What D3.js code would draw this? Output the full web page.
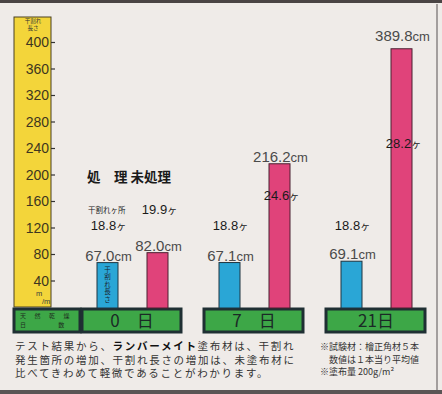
<!DOCTYPE html>
<html>
<head>
<meta charset="utf-8">
<script src="https://cdn.jsdelivr.net/npm/d3@7"></script>
<style>
  body { margin: 0; background: #efebe8; }
  svg { display: block; }
  .num { font-family: "Liberation Sans", "DejaVu Sans", sans-serif; fill: #3a3a3a; }
  .jp { font-family: "Noto Sans CJK JP", sans-serif; }
</style>
</head>
<body>
<div id="chart"></div>
<script>
// data
var days = ["0　日", "7　日", "21日"];
var series = ["処　理", "未処理"];
var treated = [67.0, 67.1, 69.1];
var untreated = [82.0, 216.2, 389.8];
var treatedCracks = [18.8, 18.8, 18.8];
var untreatedCracks = [19.9, 24.6, 28.2];
var yTicks = [40, 80, 120, 160, 200, 240, 280, 320, 360, 400];
var noteLines = [
  ["テスト結果から、", "ランバーメイト", "塗布材は、干割れ"],
  ["発生箇所の増加、干割れ長さの増加は、未塗布材に"],
  ["比べてきわめて軽微であることがわかります。"]
];
var sideNotes = ["※試験材：檜正角材５本", "　数値は１本当り平均値", "※塗布量 200g/m²"];

var W = 442, H = 394;
var colors = { yellow: "#f3d53a", blue: "#2aa6d6", pink: "#e0437a", green: "#3da747", dark: "#1f2f33" };

var svg = d3.select('#chart').append('svg')
  .attr('width', W).attr('height', H);

// paper frame
svg.append('rect').attr('x', 0).attr('y', 0).attr('width', W).attr('height', H).attr('fill', '#efebe8');
svg.append('rect').attr('x', 0).attr('y', 0).attr('width', W).attr('height', 3).attr('fill', '#4a4444');
svg.append('rect').attr('x', 0).attr('y', 390).attr('width', W).attr('height', 4).attr('fill', '#5a5555');
svg.append('line').attr('x1', 437).attr('x2', 437).attr('y1', 4).attr('y2', 390)
  .attr('stroke', '#8a8585').attr('stroke-width', 1.5);

var y = d3.scaleLinear().domain([0, 400]).range([307, 42]);
var x = d3.scaleBand().domain(days).range([71, 437]);
var inner = d3.scaleBand().domain(series).range([26, 97]).paddingInner(0.58);

// yellow axis strip
svg.append('rect').attr('x', 14).attr('y', 17).attr('width', 37).attr('height', 290)
  .attr('fill', colors.yellow).attr('stroke', '#4a4020').attr('stroke-width', 1);

var yAxis = d3.axisRight(y).tickValues(yTicks).tickSize(4).tickFormat('');
var axisG = svg.append('g').attr('transform', 'translate(51,0)').call(yAxis);
axisG.select('.domain').remove();
axisG.selectAll('.tick line').attr('stroke', '#333').attr('stroke-width', 1.2);

svg.selectAll('.ylab').data(yTicks).enter().append('text')
  .attr('class', 'num')
  .attr('x', 49).attr('y', function(d) { return y(d); })
  .attr('dy', '0.36em')
  .attr('text-anchor', 'end')
  .attr('font-size', 14)
  .style('fill', '#3d3520')
  .text(function(d) { return d; });

svg.append('text').attr('class', 'jp').attr('x', 33).attr('y', 23).attr('text-anchor', 'middle')
  .attr('font-size', 5.5).attr('fill', '#333').text('干割れ');
svg.append('text').attr('class', 'jp').attr('x', 33).attr('y', 30).attr('text-anchor', 'middle')
  .attr('font-size', 5.5).attr('fill', '#333').text('長さ');
svg.append('text').attr('class', 'num').attr('x', 36).attr('y', 296).attr('font-size', 7.5).text('m');
svg.append('text').attr('class', 'num').attr('x', 42).attr('y', 304).attr('font-size', 7.5).text('/m');

// green day boxes
svg.append('rect').attr('x', 14).attr('y', 309).attr('width', 66).attr('height', 23)
  .attr('fill', colors.green).attr('stroke', colors.dark).attr('stroke-width', 3);
svg.append('text').attr('class', 'jp').attr('x', 20).attr('y', 318)
  .attr('font-size', 6).attr('fill', '#1d2d20').style('letter-spacing', '8.5px').text('天然乾燥');
svg.append('text').attr('class', 'jp').attr('x', 20).attr('y', 327)
  .attr('font-size', 6).attr('fill', '#1d2d20').attr('xml:space', 'preserve')
  .style('white-space', 'pre').text('日                        数');

svg.selectAll('.daybox').data(days).enter().append('rect')
  .attr('x', function(d) { return x(d) + 11; })
  .attr('y', 309).attr('width', 99).attr('height', 23)
  .attr('fill', colors.green).attr('stroke', colors.dark).attr('stroke-width', 3);

svg.selectAll('.daylab').data(days).enter().append('text')
  .attr('class', 'jp')
  .attr('x', function(d) { return x(d) + 61; })
  .attr('y', 327)
  .attr('text-anchor', 'middle')
  .attr('font-size', 17)
  .attr('fill', '#1b2a26')
  .text(function(d) { return d; });

// bars
var groups = svg.selectAll('.grp').data(days).enter().append('g')
  .attr('transform', function(d) { return 'translate(' + x(d) + ',0)'; });

groups.append('rect')
  .attr('x', inner(series[0])).attr('width', inner.bandwidth())
  .attr('y', function(d, i) { return y(treated[i]); })
  .attr('height', function(d, i) { return y(0) - y(treated[i]) + 1; })
  .attr('fill', colors.blue).attr('stroke', '#1f3540').attr('stroke-width', 1);

groups.append('rect')
  .attr('x', inner(series[1])).attr('width', inner.bandwidth())
  .attr('y', function(d, i) { return y(untreated[i]); })
  .attr('height', function(d, i) { return y(0) - y(untreated[i]) + 1; })
  .attr('fill', colors.pink).attr('stroke', '#4a2030').attr('stroke-width', 1);

// value labels
function cmLabel(g, xc, yb, v) {
  var t = g.append('text').attr('class', 'num').attr('x', xc).attr('y', yb)
    .attr('text-anchor', 'middle').style('fill', '#4a4a4a');
  t.append('tspan').attr('font-size', 15).text(v.toFixed(1));
  t.append('tspan').attr('font-size', 13).text('cm');
}
groups.each(function(d, i) {
  var g = d3.select(this);
  cmLabel(g, inner(series[0]) + inner.bandwidth() / 2 + 1, y(treated[i]) - 2, treated[i]);
  cmLabel(g, inner(series[1]) + inner.bandwidth() / 2 + 1, y(untreated[i]) - (i === 2 ? 8 : 2), untreated[i]);
});

// crack counts (ヶ)
var crackRowTreated = 230;
var crackRowUntreated = [214, 200, 148];
function crackLabel(g, xc, yb, v) {
  var t = g.append('text').attr('x', xc).attr('y', yb).attr('text-anchor', 'middle')
    .attr('fill', '#1a1a1a');
  t.append('tspan').attr('class', 'num').attr('font-size', 13).style('fill', '#1a1a1a').text(v.toFixed(1));
  t.append('tspan').attr('class', 'jp').attr('font-size', 10).text('ヶ');
}
groups.each(function(d, i) {
  var g = d3.select(this);
  crackLabel(g, inner(series[0]) + inner.bandwidth() / 2 + 1, crackRowTreated, treatedCracks[i]);
  crackLabel(g, inner(series[1]) + inner.bandwidth() / 2 + 2, crackRowUntreated[i], untreatedCracks[i]);
});

// header over first group
var g0 = x(days[0]);
svg.append('text').attr('class', 'jp').attr('x', g0 + 16).attr('y', 182)
  .attr('font-size', 13.5).attr('font-weight', 'bold').attr('fill', '#1a1a1a')
  .text(series[0] + ' ' + series[1]);
svg.append('text').attr('class', 'jp').attr('x', g0 + 17).attr('y', 213)
  .attr('font-size', 7.5).attr('fill', '#222').text('干割れヶ所');

// vertical text inside first blue bar
svg.append('text').attr('class', 'jp')
  .attr('x', g0 + inner(series[0]) + inner.bandwidth() / 2)
  .attr('y', 266)
  .style('writing-mode', 'vertical-rl')
  .style('letter-spacing', '1px')
  .attr('font-size', 6.5).attr('fill', '#1a2530').text('干割れ長さ');

// notes at bottom
noteLines.forEach(function(parts, i) {
  var t = svg.append('text').attr('class', 'jp').attr('x', 15).attr('y', 350 + i * 13.5)
    .attr('font-size', 10.5).attr('fill', '#333').style('letter-spacing', '1.7px');
  parts.forEach(function(p) {
    t.append('tspan').attr('font-weight', p === 'ランバーメイト' ? 'bold' : 'normal')
      .style('fill', p === 'ランバーメイト' ? '#111' : '#333').text(p);
  });
});
sideNotes.forEach(function(s, i) {
  svg.append('text').attr('class', 'jp').attr('x', 320).attr('y', 350 + i * 12.5)
    .attr('font-size', 9).attr('fill', '#333').text(s);
});
</script>
</body>
</html>
